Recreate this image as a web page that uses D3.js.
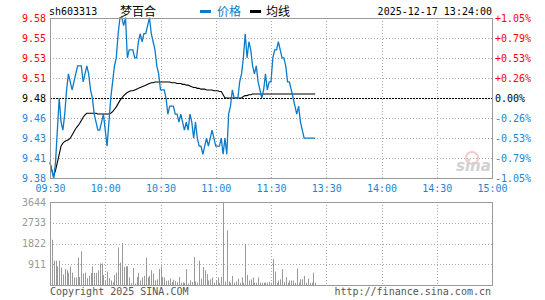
<!DOCTYPE html>
<html>
<head>
<meta charset="utf-8">
<script src="https://cdn.jsdelivr.net/npm/d3@7"></script>
<style>
body { margin: 0; background: #fff; }
text { font-family: "DejaVu Sans Mono", monospace; font-size: 10px; }
.cn { font-family: "Noto Sans CJK SC", sans-serif; font-size: 12px; }
</style>
</head>
<body>
<div id="chart"></div>
<script>
var width = 545, height = 300;

var preClose = 9.48;
var priceLabels = ["9.58","9.55","9.53","9.51","9.48","9.46","9.43","9.41","9.38"];
var pctLabels = ["+1.05%","+0.79%","+0.53%","+0.26%","0.00%","-0.26%","-0.53%","-0.79%","-1.05%"];
var pctSteps = [1.05, 0.7875, 0.525, 0.2625, 0, -0.2625, -0.525, -0.7875, -1.05];
var timeLabels = ["09:30","10:00","10:30","11:00","11:30","13:30","14:00","14:30","15:00"];
var timeMinutes = [0, 30, 60, 90, 120, 150, 180, 210, 240];
var volLabels = ["3644","2733","1822","911"];
var volTicks = [3644, 2733, 1822, 911];

// one value per minute, 09:30 .. 11:30, 13:01 .. 13:24
var price = [
  9.40,9.39,9.38,9.40,9.44,9.48,9.45,9.44,9.46,9.49,
  9.51,9.50,9.49,9.50,9.51,9.52,9.52,9.52,9.50,9.51,
  9.52,9.51,9.49,9.48,9.46,9.45,9.44,9.44,9.45,9.46,
  9.44,9.42,9.45,9.48,9.50,9.52,9.53,9.56,9.58,9.58,
  9.57,9.58,9.53,9.54,9.54,9.54,9.53,9.53,9.55,9.56,
  9.55,9.56,9.56,9.57,9.58,9.56,9.55,9.54,9.52,9.51,
  9.49,9.49,9.49,9.48,9.46,9.47,9.47,9.47,9.46,9.46,
  9.45,9.46,9.45,9.44,9.45,9.44,9.46,9.45,9.43,9.45,
  9.43,9.42,9.42,9.41,9.42,9.43,9.42,9.43,9.44,9.43,
  9.42,9.42,9.42,9.43,9.41,9.43,9.41,9.46,9.47,9.49,
  9.48,9.48,9.48,9.50,9.51,9.53,9.56,9.53,9.55,9.54,
  9.52,9.51,9.52,9.50,9.49,9.48,9.49,9.51,9.49,9.50,
  9.50,9.53,9.54,9.54,9.55,9.54,9.53,9.53,9.52,9.50,
  9.50,9.49,9.48,9.47,9.46,9.47,9.45,9.44,9.43,9.43,
  9.43,9.43,9.43,9.43,9.43
];

var avgPrice = [
  9.400,9.390,9.383,9.390,9.400,9.410,9.420,9.424,9.426,9.427,
  9.428,9.430,9.434,9.438,9.442,9.445,9.448,9.452,9.456,9.459,
  9.461,9.461,9.461,9.461,9.461,9.461,9.460,9.460,9.460,9.460,
  9.460,9.460,9.460,9.461,9.463,9.466,9.469,9.473,9.477,9.480,
  9.483,9.485,9.487,9.488,9.489,9.489,9.490,9.491,9.492,9.493,
  9.494,9.495,9.496,9.497,9.498,9.499,9.499,9.500,9.500,9.500,
  9.500,9.500,9.500,9.500,9.500,9.500,9.499,9.499,9.499,9.498,
  9.498,9.498,9.497,9.497,9.496,9.496,9.495,9.494,9.493,9.493,
  9.492,9.492,9.491,9.491,9.491,9.490,9.490,9.490,9.490,9.489,
  9.489,9.489,9.488,9.488,9.484,9.480,9.480,9.480,9.480,9.480,
  9.480,9.480,9.480,9.480,9.480,9.482,9.483,9.483,9.484,9.484,
  9.485,9.485,9.485,9.485,9.485,9.485,9.485,9.485,9.485,9.485,
  9.485,9.485,9.485,9.485,9.485,9.485,9.485,9.485,9.485,9.485,
  9.485,9.485,9.485,9.485,9.485,9.485,9.485,9.485,9.485,9.485,
  9.485,9.485,9.485,9.485,9.485
];

var volume = [
  350,1990,1066,1066,820,1066,760,460,700,650,
  540,820,540,330,330,1200,350,1480,500,540,
  300,400,530,820,530,530,640,940,940,440,
  200,580,300,200,120,440,540,1650,980,1840,
  790,820,820,330,80,750,60,350,540,200,
  330,400,1200,330,400,650,500,200,250,700,
  820,350,330,180,200,280,130,230,180,120,
  350,100,120,100,700,60,200,130,1230,160,
  100,1066,280,790,650,480,200,250,330,100,
  200,330,100,350,3644,150,2400,160,100,400,
  100,160,280,100,330,100,1800,440,200,250,
  330,100,100,330,100,100,100,100,100,130,
  100,1140,590,100,200,250,700,130,350,100,
  200,200,200,100,730,100,250,250,400,100,
  280,100,100,540,100
];

var plotL = 50, plotR = 492, plotT = 18, plotB = 178;
var volT = 202, volB = 285;
var blue = "#0b7bc9", labelBlue = "#1a86d6", red = "#ff0000", gridColor = "#aaa";

var svg = d3.select("#chart").append("svg")
    .attr("width", width)
    .attr("height", height);

var x = d3.scaleLinear().domain([0, 240]).range([plotL, plotR]);
var y = d3.scaleLinear()
    .domain([preClose * (1 - 0.0105), preClose * (1 + 0.0105)])
    .range([plotB, plotT]);
var yVol = d3.scaleLinear().domain([0, 3644]).range([volB, volT]);

var priceTicks = pctSteps.map(p => preClose * (1 + p / 100));

// grid - main
var grid = svg.append("g");
grid.selectAll(".hg")
    .data(priceTicks.filter((d, i) => i > 0 && i < 8 && i != 4))
    .join("line")
    .attr("x1", plotL).attr("x2", plotR)
    .attr("y1", d => Math.round(y(d)) + 0.5).attr("y2", d => Math.round(y(d)) + 0.5)
    .attr("stroke", gridColor).attr("stroke-dasharray", "1,2");
grid.selectAll(".vg")
    .data(timeMinutes.slice(1, 8))
    .join("line")
    .attr("x1", d => Math.round(x(d)) + 0.5).attr("x2", d => Math.round(x(d)) + 0.5)
    .attr("y1", plotT).attr("y2", plotB)
    .attr("stroke", gridColor).attr("stroke-dasharray", "1,2");

// grid - volume
var grid2 = svg.append("g");
grid2.selectAll("line.h")
    .data(volTicks.slice(1))
    .join("line")
    .attr("class", "h")
    .attr("x1", plotL).attr("x2", plotR)
    .attr("y1", d => Math.round(yVol(d)) + 0.5).attr("y2", d => Math.round(yVol(d)) + 0.5)
    .attr("stroke", gridColor).attr("stroke-dasharray", "1,2");
grid2.selectAll("line.v")
    .data(timeMinutes.slice(1, 8))
    .join("line")
    .attr("class", "v")
    .attr("x1", d => Math.round(x(d)) + 0.5).attr("x2", d => Math.round(x(d)) + 0.5)
    .attr("y1", volT).attr("y2", volB)
    .attr("stroke", gridColor).attr("stroke-dasharray", "1,2");

// sina watermark
var wm = svg.append("g").attr("opacity", 0.45);
wm.append("circle").attr("cx", 472).attr("cy", 158).attr("r", 6)
    .attr("fill", "none").attr("stroke", "#e88").attr("stroke-width", 2);
wm.append("text").attr("x", 456).attr("y", 171)
    .style("font-family", "DejaVu Sans").style("font-size", "15px")
    .style("font-weight", "bold").style("font-style", "italic")
    .attr("fill", "#999").text("sina");

// prev close line
svg.append("line")
    .attr("x1", plotL).attr("x2", plotR)
    .attr("y1", Math.round(y(preClose)) + 0.5).attr("y2", Math.round(y(preClose)) + 0.5)
    .attr("stroke", "#000").attr("stroke-dasharray", "2,1");

// volume bars
svg.append("g").selectAll("line")
    .data(volume)
    .join("line")
    .attr("x1", (d, i) => Math.round(x(i)) + 0.5)
    .attr("x2", (d, i) => Math.round(x(i)) + 0.5)
    .attr("y1", volB)
    .attr("y2", d => yVol(d))
    .attr("stroke", "#999").attr("stroke-width", 1);

// lines
var line = d3.line()
    .x((d, i) => x(i))
    .y(d => y(d));

svg.append("path")
    .datum(avgPrice)
    .attr("d", line)
    .attr("fill", "none").attr("stroke", "#000").attr("stroke-width", 1.1);

svg.append("path")
    .datum(price)
    .attr("d", line)
    .attr("fill", "none").attr("stroke", blue).attr("stroke-width", 1.3);

// frames
svg.append("rect").attr("x", plotL + 0.5).attr("y", plotT + 0.5)
    .attr("width", plotR - plotL).attr("height", plotB - plotT)
    .attr("fill", "none").attr("stroke", "#999");
svg.append("rect").attr("x", plotL + 0.5).attr("y", volT + 0.5)
    .attr("width", plotR - plotL).attr("height", volB - volT)
    .attr("fill", "none").attr("stroke", "#999");

// axes
function colorFor(i) { return i < 4 ? red : (i == 4 ? "#000" : labelBlue); }

var yAxisL = svg.append("g").attr("transform", "translate(" + plotL + ",0)")
    .call(d3.axisLeft(y).tickValues(priceTicks).tickSize(0).tickPadding(4)
        .tickFormat((d, i) => priceLabels[i]));
yAxisL.selectAll("text").attr("fill", (d, i) => colorFor(i));

var yAxisR = svg.append("g").attr("transform", "translate(" + plotR + ",0)")
    .call(d3.axisRight(y).tickValues(priceTicks).tickSize(0).tickPadding(3)
        .tickFormat((d, i) => pctLabels[i]));
yAxisR.selectAll("text").attr("fill", (d, i) => colorFor(i));

var xAxis = svg.append("g").attr("transform", "translate(0," + plotB + ")")
    .call(d3.axisBottom(x).tickValues(timeMinutes).tickSize(0).tickPadding(7)
        .tickFormat((d, i) => timeLabels[i]));
xAxis.selectAll("text").attr("fill", labelBlue);

var volAxis = svg.append("g").attr("transform", "translate(" + plotL + ",0)")
    .call(d3.axisLeft(yVol).tickValues(volTicks).tickSize(0).tickPadding(4)
        .tickFormat((d, i) => volLabels[i]));
volAxis.selectAll("text").attr("fill", "#999");

svg.selectAll(".domain").remove();
svg.selectAll(".tick text").style("font-family", "DejaVu Sans Mono").style("font-size", "10px");

// header
svg.append("text").attr("x", 49).attr("y", 15).attr("fill", "#000").text("sh603313");
svg.append("text").attr("class", "cn").attr("x", 120).attr("y", 16).attr("fill", "#000").text("梦百合");
svg.append("rect").attr("x", 200).attr("y", 10).attr("width", 11).attr("height", 3).attr("fill", blue);
svg.append("text").attr("class", "cn").attr("x", 217).attr("y", 16).attr("fill", blue).text("价格");
svg.append("rect").attr("x", 250).attr("y", 10).attr("width", 11).attr("height", 3).attr("fill", "#000");
svg.append("text").attr("class", "cn").attr("x", 266).attr("y", 16).attr("fill", "#000").text("均线");
svg.append("text").attr("x", 492).attr("y", 15).attr("text-anchor", "end").attr("fill", "#000")
    .text("2025-12-17 13:24:00");

// footer
svg.append("text").attr("x", 50).attr("y", 295).attr("fill", "#555").text("Copyright 2025 SINA.COM");
svg.append("text").attr("x", 491).attr("y", 295).attr("text-anchor", "end").attr("fill", "#555")
    .text("http://finance.sina.com.cn");
</script>
</body>
</html>
